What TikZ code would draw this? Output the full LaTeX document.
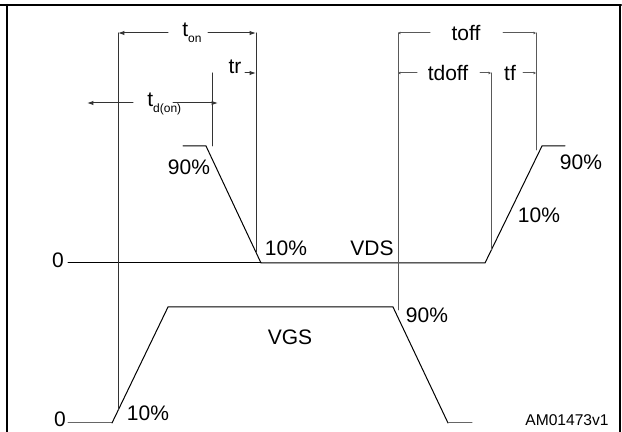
\documentclass[tikz,border=0pt]{standalone}
\usepackage{fontspec}
\setmainfont{Liberation Sans}
\usepackage{tkz-euclide}
\usetikzlibrary{arrows.meta}
\newcommand{\tsub}[1]{\raisebox{-3pt}{\fontsize{6}{7}\selectfont #1}}
\begin{document}
\begin{tikzpicture}[x=0.5pt,y=-0.5pt,
    wave/.style={line width=0.5pt,black},
    dimline/.style={line width=0.5pt,black!80},
    dimarrow/.style={line width=0.5pt,black!80,-{Latex[length=3.2pt,width=2.2pt]}},
    tinyarrow/.style={line width=0.5pt,black!65,-{Latex[length=1.2pt,width=1.5pt]}},
    lbl/.style={inner sep=0pt,font=\fontsize{10.5}{12}\selectfont}]
                \useasboundingbox (0,0) rectangle (622,432);

                % frame
                \tkzDefPoint(0,5){K1}
                \tkzDefPoint(621,5){K2}
                \tkzDefPoint(7,5){K3}
                \tkzDefPoint(7,432){K4}
                \tkzDefPoint(620,5){K5}
                \tkzDefPoint(620,432){K6}
                \tkzDrawSegment[line width=1.2pt](K1,K2)
                \tkzDrawSegment[line width=1pt](K3,K4)
                \tkzDrawSegment[line width=0.9pt](K5,K6)

                % VDS
                \tkzDefPoint(68,263){D0}
                \tkzDefPoint(183,146){D1}
                \tkzDefPoint(206,146){D2}
                \tkzDefPoint(261,263){D3}
                \tkzDefPoint(485,263){D4}
                \tkzDefPoint(542,146){D5}
                \tkzDefPoint(565,146){D6}
                \tkzDrawPolySeg[wave](D1,D2,D3,D4,D5,D6)
                \tkzDrawSegment[wave](D0,D3)

                % VGS
                \tkzDefPoint(68,423){G1}
                \tkzDefPoint(112,423){G2}
                \tkzDefPoint(168,307){G3}
                \tkzDefPoint(393,307){G4}
                \tkzDefPoint(448,423){G5}
                \tkzDefPoint(472,423){G6}
                \tkzDrawSegment[wave,black!60](G1,G2)
                \tkzDrawPolySeg[wave](G2,G3,G4,G5)
                \tkzDrawSegment[wave,black!60](G5,G6)

                % ton, tr, td(on)
                \tkzDefPoint(118,33){A1}
                \tkzDefPoint(118,410){A2}
                \tkzDefPoint(256,33){B1}
                \tkzDefPoint(256,252){B2}
                \tkzDefPoint(212,73){C1}
                \tkzDefPoint(212,146){C2}
                \tkzDrawSegment[dimline](A1,A2)
                \tkzDrawSegment[dimline](B1,B2)
                \tkzDrawSegment[dimline](C1,C2)

                \tkzDefPoint(168,33){a1}
                \tkzDefPoint(208,33){a2}
                \tkzDefPoint(245,73){r1}
                \tkzDefPoint(256,73){r2}
                \tkzDefPoint(133,103){d1}
                \tkzDefPoint(87,103){d2}
                \tkzDefPoint(173,103){d3}
                \tkzDefPoint(218,103){d4}
                \tkzDrawSegment[dimarrow](a1,A1)
                \tkzDrawSegment[dimarrow](a2,B1)
                \tkzDrawSegment[dimarrow](r1,r2)
                \tkzDrawSegment[dimarrow](d1,d2)
                \tkzDrawSegment[dimarrow](d3,d4)

                % toff, tdoff, tf
                \tkzDefPoint(398,33){E1}
                \tkzDefPoint(398,310){E2}
                \tkzDefPoint(536,33){F1}
                \tkzDefPoint(536,150){F2}
                \tkzDefPoint(491,73){H1}
                \tkzDefPoint(491,250){H2}
                \tkzDrawSegment[dimline,black!65](E1,E2)
                \tkzDrawSegment[dimline,black!65](F1,F2)
                \tkzDrawSegment[dimline,black!65](H1,H2)

                \tkzDefPoint(430,33){e1}
                \tkzDefPoint(503,33){e2}
                \tkzDefPoint(417,73){h1}
                \tkzDefPoint(398,73){h2}
                \tkzDefPoint(480,73){h3}
                \tkzDefPoint(523,73){f1}
                \tkzDefPoint(536,73){f2}
                \tkzDrawSegment[tinyarrow](e1,E1)
                \tkzDrawSegment[tinyarrow](e2,F1)
                \tkzDrawSegment[tinyarrow](h1,h2)
                \tkzDrawSegment[tinyarrow](h3,H1)
                \tkzDrawSegment[tinyarrow](f1,f2)

                % labels
                \node[lbl,anchor=base west] (ton) at (182,37) {t\tsub{on}};
                \node[lbl,anchor=base west] (tdon) at (147,107) {t\tsub{d(on)}};
                \node[lbl] (tr) at (235,67) {tr};
                \node[lbl] (toff) at (466,33) {toff};
                \node[lbl] (tdoff) at (448,73) {tdoff};
                \node[lbl] (tf) at (510,73) {tf};
                \node[lbl] (pnineton) at (189,167) {90\%};
                \node[lbl] (ptenon) at (286,248) {10\%};
                \node[lbl] (vds) at (372,248) {VDS};
                \node[lbl] (zerods) at (58,260) {0};
                \node[lbl] (zerogs) at (60,419) {0};
                \node[lbl] (ptengs) at (148,413) {10\%};
                \node[lbl] (vgs) at (290,337) {VGS};
                \node[lbl] (pninegs) at (427,315) {90\%};
                \node[lbl] (pnineoff) at (581,162) {90\%};
                \node[lbl] (ptenoff) at (539,215) {10\%};
                \node[lbl,font=\fontsize{7.8}{9}\selectfont] (code) at (567,420) {AM01473v1};
            \end{tikzpicture}
\end{document}
